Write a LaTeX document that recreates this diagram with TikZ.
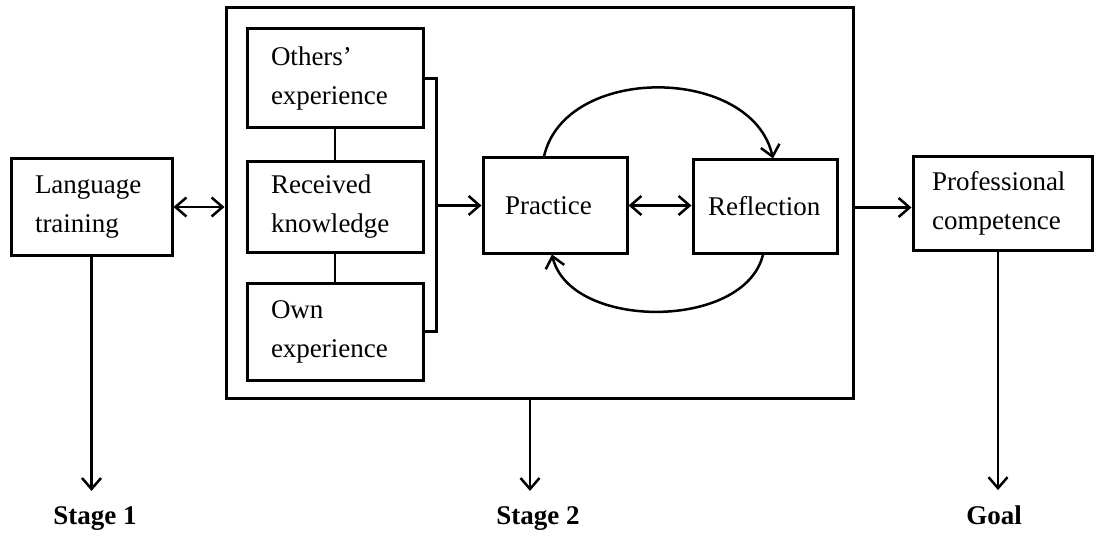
\documentclass[tikz,border=0pt]{standalone}
\usepackage{fontspec}
\setmainfont{Liberation Serif}
\usetikzlibrary{arrows.meta,calc}
\begin{document}
\begin{tikzpicture}[x=1pt,y=-1pt,
  box/.style={draw, line width=3pt, inner sep=0pt, align=left,
    font=\fontsize{27}{39}\selectfont},
  conn/.style={line width=2.5pt},
  barb/.tip={Straight Barb[length=11pt,width=19pt]},
  arr/.style={conn, -barb},
  darr/.style={conn, barb-barb},
  stagelabel/.style={font=\fontsize{27}{32}\selectfont\bfseries,
    inner xsep=0pt, inner ysep=15pt, anchor=base}]
\useasboundingbox (0,0) rectangle (1099,537);

% outer frame of stage 2
\node[draw, line width=3pt, inner sep=0pt, minimum width=627pt,
  minimum height=390pt] (frame) at (539.5,203) {};

% boxes
\node[box, minimum width=161pt, minimum height=96pt, text width=113pt]
  (lang) at (91.5,207) {Language\\training};
\node[box, minimum width=176pt, minimum height=99pt, text width=128pt]
  (others) at (335,78.5) {Others'\\experience};
\node[box, minimum width=176pt, minimum height=90pt, text width=128pt]
  (received) at (335,207) {Received\\knowledge};
\node[box, minimum width=176pt, minimum height=97pt, text width=128pt]
  (own) at (335,331.5) {Own\\experience};
\node[box, minimum width=144pt, minimum height=95pt, text width=100pt]
  (practice) at (555,205.5) {Practice};
\node[box, minimum width=144pt, minimum height=93pt, text width=114pt]
  (reflection) at (765,206.5) {Reflection};
\node[box, minimum width=179pt, minimum height=93pt, text width=141pt]
  (prof) at (1002.5,203.5) {Professional\\competence};

% stage labels
\node[stagelabel] (s1) at (95,524) {Stage 1};
\node[stagelabel] (s2) at (538,524) {Stage 2};
\node[stagelabel] (goal) at (994,524) {Goal};

% links inside the frame
\draw[conn] (others.south) -- (received.north);
\draw[conn] (received.south) -- (own.north);
\draw[conn] (others.east) -- ++(12,0) coordinate (bk) |- (own.east);
\draw[arr] (bk |- practice.west) -- (practice.west);
\draw[darr] (practice.east) -- (practice.east -| reflection.west);

% practice / reflection cycle
\coordinate (a1) at ($(practice.north)+(-11,0)$);
\coordinate (a2) at ($(reflection.north)+(8,0)$);
\draw[arr] (a1) .. controls ($(a1)+(21,-93)$) and ($(a2)+(-21,-93)$) .. (a2);
\coordinate (b1) at ($(reflection.south)+(-2,0)$);
\coordinate (b2) at ($(practice.south)+(-3,0)$);
\draw[arr] (b1) .. controls ($(b1)+(-18,76)$) and ($(b2)+(18,76)$) .. (b2);

% main flow
\draw[darr] (lang.east) -- (lang.east -| frame.west);
\coordinate (pin) at ($(prof.west)+(0,4)$);
\draw[arr] (frame.east |- pin) -- (pin);

% arrows down to the stage labels
\draw[arr] (lang.south) -- (lang.south |- s1.north);
\coordinate (s2top) at ($(s2.north)+(-8,0)$);
\draw[arr] (frame.south -| s2top) -- (s2top);
\coordinate (gtop) at ($(goal.north)+(4,0)$);
\draw[arr] (prof.south -| gtop) -- (gtop);
\end{tikzpicture}
\end{document}
